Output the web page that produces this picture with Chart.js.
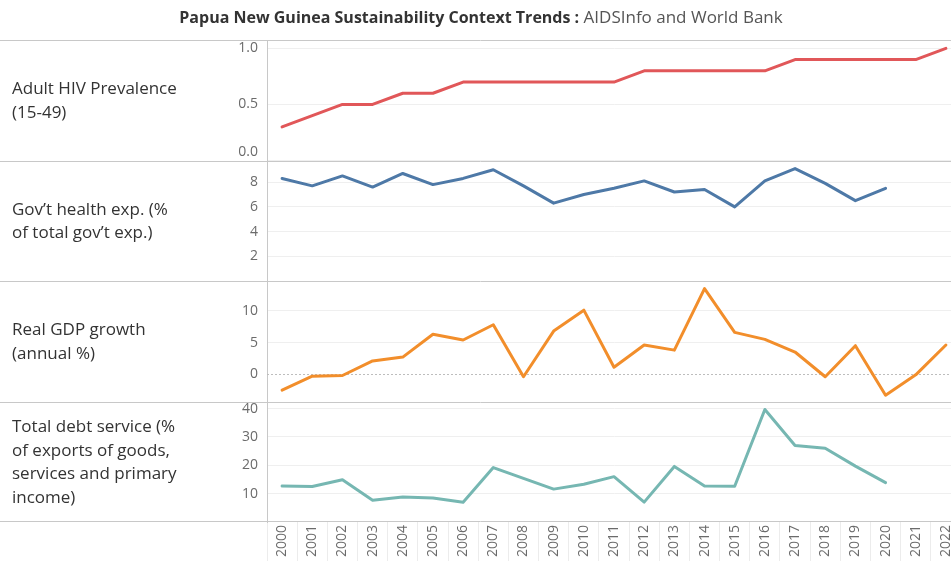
<!DOCTYPE html>
<html>
<head>
<meta charset="utf-8">
<script src="https://cdn.jsdelivr.net/npm/chart.js"></script>
<style>
  html, body { margin: 0; padding: 0; background: #fff; overflow: hidden; }
  #wrap { width: 961px; height: 566px; }
</style>
</head>
<body>
<div id="wrap"><canvas id="myChart" width="961" height="566"></canvas></div>
<script>
// data
var years = ['2000', '2001', '2002', '2003', '2004', '2005', '2006', '2007', '2008', '2009', '2010', '2011',
  '2012', '2013', '2014', '2015', '2016', '2017', '2018', '2019', '2020', '2021', '2022'];

var hivPrevalence = [0.3, 0.4, 0.5, 0.5, 0.6, 0.6, 0.7, 0.7, 0.7, 0.7, 0.7, 0.7,
  0.8, 0.8, 0.8, 0.8, 0.8, 0.9, 0.9, 0.9, 0.9, 0.9, 1.0];
var healthExp = [8.3, 7.7, 8.5, 7.6, 8.7, 7.8, 8.3, 9.0, 7.7, 6.3, 7.0, 7.5,
  8.1, 7.2, 7.4, 6.0, 8.1, 9.1, 7.9, 6.5, 7.5, null, null];
var gdpGrowth = [-2.5, -0.3, -0.2, 2.1, 2.7, 6.3, 5.4, 7.8, -0.4, 6.8, 10.1, 1.1,
  4.6, 3.8, 13.5, 6.6, 5.5, 3.5, -0.4, 4.5, -3.3, -0.1, 4.6];
var debtService = [12.7, 12.5, 14.9, 7.7, 8.8, 8.5, 7.0, 19.2, 15.4, 11.6, 13.3, 16.0,
  7.0, 19.6, 12.7, 12.6, 39.7, 27.0, 26.0, 19.7, 13.9, null, null];

var hivTicks = [0, 0.5, 1.0];
var hivTickLabels = [['0.0', ''], '0.5', '1.0'];   // bottom label sits inside its row
var healthTicks = [2, 4, 6, 8];
var healthTickLabels = ['2', '4', '6', '8'];
var gdpTicks = [0, 5, 10];
var gdpTickLabels = ['0', '5', '10'];
var debtTicks = [10, 20, 30, 40];
var debtTickLabels = ['10', '20', '30', '40'];

var rowLabels = {
  yHiv: ['Adult HIV Prevalence', '(15-49)'],
  yHealth: ['Gov\u2019t health exp. (%', 'of total gov\u2019t exp.)'],
  yGdp: ['Real GDP growth', '(annual %)'],
  yDebt: ['Total debt service (%', 'of exports of goods,', 'services and primary', 'income)']
};
var titleBold = 'Papua New Guinea Sustainability Context Trends :';
var titleNormal = ' AIDSInfo and World Bank';

var FONT = "'Open Sans', sans-serif";
var LINE_GRAY = '#c8c8c8';
var GRID_GRAY = '#efefef';

function rowAxis(weight, min, max, ticks, labels, gridColor) {
  return {
    type: 'linear',
    position: 'left',
    stack: 'rows',
    stackWeight: 1,
    weight: weight,
    min: min,
    max: max,
    afterFit: function (scale) {
      scale.width = 267;
    },
    afterBuildTicks: function (scale) {
      scale.ticks = ticks.map(function (v) { return { value: v }; });
    },
    ticks: {
      autoSkip: false,
      padding: 9,
      color: '#6b6b6b',
      font: { family: FONT, size: 14 },
      callback: function (value, index) {
        return labels[index];
      }
    },
    grid: {
      color: gridColor || GRID_GRAY,
      drawTicks: false
    },
    border: {
      display: true,
      color: LINE_GRAY
    }
  };
}

var panelPlugin = {
  id: 'panels',
  beforeDatasetsDraw: function (chart) {
    var ctx = chart.ctx;
    var area = chart.chartArea;
    var y0 = chart.scales.yGdp.getPixelForValue(0);
    ctx.save();
    ctx.strokeStyle = '#bdbdbd';
    ctx.lineWidth = 1;
    ctx.setLineDash([2, 2]);
    ctx.beginPath();
    ctx.moveTo(area.left, Math.round(y0) + 0.5);
    ctx.lineTo(area.right, Math.round(y0) + 0.5);
    ctx.stroke();
    ctx.restore();
  },
  afterDraw: function (chart) {
    var ctx = chart.ctx;
    ctx.save();
    // separators between the rows
    ctx.strokeStyle = LINE_GRAY;
    ctx.lineWidth = 1;
    ['yHiv', 'yHealth', 'yGdp', 'yDebt'].forEach(function (id) {
      var s = chart.scales[id];
      ctx.beginPath();
      ctx.moveTo(0, Math.round(s.top) + 0.5);
      ctx.lineTo(chart.width, Math.round(s.top) + 0.5);
      ctx.stroke();
    });
    var last = chart.scales.yDebt;
    ctx.beginPath();
    ctx.moveTo(0, Math.round(last.bottom) - 0.5);
    ctx.lineTo(chart.width, Math.round(last.bottom) - 0.5);
    ctx.stroke();

    // row labels
    ctx.fillStyle = '#333333';
    ctx.font = '17px ' + FONT;
    ctx.textAlign = 'left';
    ctx.textBaseline = 'middle';
    var lh = 23.5;
    Object.keys(rowLabels).forEach(function (id) {
      var s = chart.scales[id];
      var lines = rowLabels[id];
      var mid = (s.top + s.bottom) / 2 + 1;
      var start = mid - (lines.length - 1) * lh / 2;
      lines.forEach(function (t, i) {
        ctx.fillText(t, 12, start + i * lh);
      });
    });

    // title
    ctx.font = 'bold 16px ' + FONT;
    var wBold = ctx.measureText(titleBold).width;
    ctx.font = '17px ' + FONT;
    var wNorm = ctx.measureText(titleNormal).width;
    var x = 481 - (wBold + wNorm) / 2;
    ctx.font = 'bold 16px ' + FONT;
    ctx.fillStyle = '#333333';
    ctx.fillText(titleBold, x, 18);
    ctx.font = '17px ' + FONT;
    ctx.fillStyle = '#555555';
    ctx.fillText(titleNormal, x + wBold, 18);
    ctx.restore();
  }
};

var chartData = {
  labels: years,
  datasets: [
    { label: 'Adult HIV Prevalence', data: hivPrevalence, yAxisID: 'yHiv', borderColor: '#e15759' },
    { label: 'Gov health exp.', data: healthExp, yAxisID: 'yHealth', borderColor: '#4e79a7' },
    { label: 'Real GDP growth', data: gdpGrowth, yAxisID: 'yGdp', borderColor: '#f28e2b' },
    { label: 'Total debt service', data: debtService, yAxisID: 'yDebt', borderColor: '#76b7b2' }
  ]
};

var chart = document.getElementById('myChart').getContext('2d');
var myChart = new Chart(chart, {
  type: 'line',
  data: chartData,
  plugins: [panelPlugin],
  options: {
    responsive: false,
    animation: false,
    layout: {
      padding: { top: 40, left: 0, right: 0, bottom: 0 }
    },
    elements: {
      point: { radius: 0 },
      line: { borderWidth: 3, tension: 0, fill: false, borderCapStyle: 'round', borderJoinStyle: 'round' }
    },
    scales: {
      x: {
        type: 'category',
        offset: true,
        afterFit: function (scale) {
          scale.height = 44;
        },
        grid: {
          offset: true,
          drawOnChartArea: false,
          drawTicks: true,
          tickLength: 44,
          tickColor: '#ececec'
        },
        border: { display: false },
        ticks: {
          autoSkip: false,
          minRotation: 90,
          maxRotation: 90,
          padding: -41,
          color: '#6b6b6b',
          font: { family: FONT, size: 14 }
        }
      },
      yHiv: rowAxis(4, 0, 1.075, hivTicks, hivTickLabels),
      yHealth: rowAxis(3, 0, 9.75, healthTicks, healthTickLabels),
      yGdp: rowAxis(2, -4.3, 14.7, gdpTicks, gdpTickLabels, function (c) {
        return c.tick && c.tick.value === 0 ? 'rgba(0,0,0,0)' : GRID_GRAY;
      }),
      yDebt: rowAxis(1, 0, 42.5, debtTicks, debtTickLabels)
    },
    plugins: {
      legend: { display: false },
      tooltip: { enabled: false }
    }
  }
});
</script>
</body>
</html>
